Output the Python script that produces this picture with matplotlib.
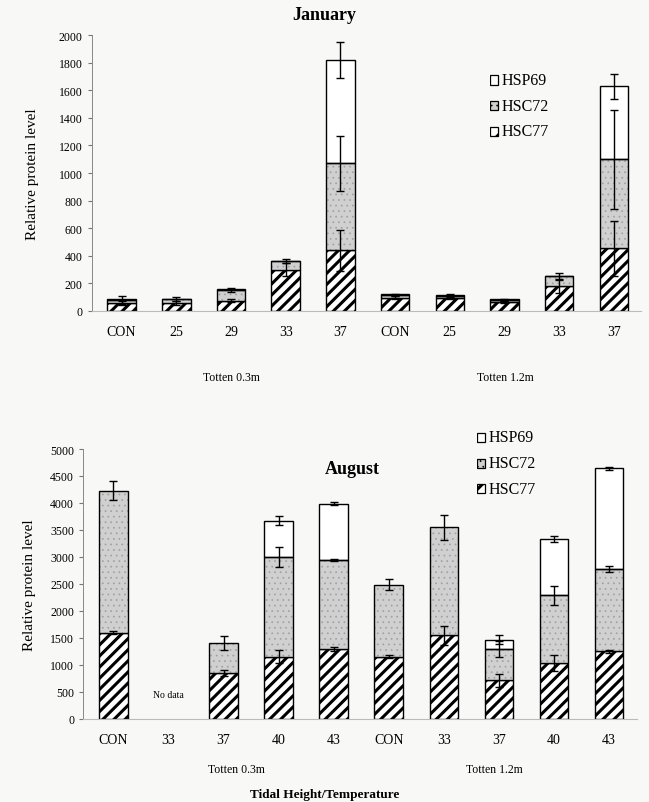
import matplotlib
matplotlib.use("Agg")
import matplotlib.pyplot as plt
import matplotlib.patches as mp
import numpy as np

plt.rcParams['font.family'] = ['Liberation Serif', 'DejaVu Serif']
plt.rcParams['hatch.linewidth'] = 2.2

# tick labels (temperatures) and groups
jan_labels = ["CON", "25", "29", "33", "37", "CON", "25", "29", "33", "37"]
aug_labels = ["CON", "33", "37", "40", "43", "CON", "33", "37", "40", "43"]
groups = ["Totten 0.3m", "Totten 1.2m"]

# January (segment heights, stacked HSC77 -> HSC72 -> HSP69)
jan_hsc77 = [55, 55, 75, 300, 440, 95, 95, 65, 180, 455]
jan_hsc72 = [25, 30, 75, 60, 630, 20, 15, 15, 70, 645]
jan_hsp69 = [5, 5, 10, 5, 750, 5, 5, 5, 5, 530]
jan_hsc77_err = [15, 15, 10, 50, 150, 10, 10, 10, 50, 200]
jan_hsc72_err = [30, 15, 15, 15, 200, 10, 10, 10, 25, 360]
jan_hsp69_err = [0, 0, 0, 0, 130, 0, 0, 0, 0, 90]

# August
aug_hsc77 = [1600, 0, 850, 1150, 1300, 1150, 1550, 720, 1030, 1250]
aug_hsc72 = [2630, 0, 550, 1850, 1640, 1340, 2000, 580, 1260, 1530]
aug_hsp69 = [0, 0, 0, 670, 1050, 0, 0, 170, 1040, 1860]
aug_hsc77_err = [20, 0, 50, 120, 40, 30, 180, 120, 150, 30]
aug_hsc72_err = [180, 0, 130, 190, 20, 100, 230, 150, 180, 60]
aug_hsp69_err = [0, 0, 0, 80, 30, 0, 0, 80, 50, 30]

BG = '#f8f8f6'
GRAY = '#d0d0d0'


def thin_hatch(patches, lw=0.5):
    for p in patches:
        try:
            p.set_hatch_linewidth(lw)
        except AttributeError:
            pass


def stacked(ax, labels, h77, h72, h69, e77, e72, e69):
    x = np.arange(len(labels))
    h77, h72, h69 = map(np.array, (h77, h72, h69))
    w = 0.52
    m = h77 > 0
    ax.bar(x[m], h77[m], w, color='white', edgecolor='black', hatch='///', lw=1.0, zorder=2)
    m = h72 > 0
    b = ax.bar(x[m], h72[m], w, bottom=h77[m], color=GRAY, edgecolor='#a0a0a0', hatch='...', lw=0, zorder=2)
    thin_hatch(b)
    ax.bar(x[m], h72[m], w, bottom=h77[m], color='none', edgecolor='black', lw=1.0, zorder=3)
    m = h69 > 0
    ax.bar(x[m], h69[m], w, bottom=(h77 + h72)[m], color='white', edgecolor='black', lw=1.0, zorder=2)
    for vals, errs in ((h77, e77), (h77 + h72, e72), (h77 + h72 + h69, e69)):
        errs = np.array(errs)
        k = errs > 0
        ax.errorbar(x[k], vals[k], yerr=errs[k], fmt='none', ecolor='black',
                    elinewidth=1.0, capsize=3, capthick=1.0, zorder=4)
    ax.set_xticks(x)
    ax.set_xticklabels(labels, fontsize=10)
    ax.tick_params(axis='x', length=0, pad=10)
    ax.tick_params(axis='y', labelsize=8.5, length=3, color='#777777')
    for s in ('top', 'right'):
        ax.spines[s].set_visible(False)
    ax.spines['left'].set_color('#888888')
    ax.spines['left'].set_linewidth(0.7)
    ax.spines['bottom'].set_color('#bbbbbb')
    ax.spines['bottom'].set_linewidth(0.8)
    ax.set_facecolor(BG)
    ax.set_xlim(-0.55, 9.5)


def legend(fig, x0, y0, dy, size):
    items = [('white', None, 'HSP69'), (GRAY, '...', 'HSC72'), ('white', '//', 'HSC77')]
    lax = fig.add_axes([x0, y0 - 2 * dy - 0.02, 0.2, 2 * dy + 0.04])
    lax.axis('off')
    lax.set_xlim(0, 1)
    lax.set_ylim(0, 1)
    n = len(items)
    for i, (fc, hatch, lab) in enumerate(items):
        yy = 1 - (i + 0.5) / n
        r = mp.Rectangle((0.0, yy - 0.06), size, 0.12, facecolor=fc, edgecolor='black',
                         hatch=hatch, lw=0.9)
        lax.add_patch(r)
        if hatch == '...':
            thin_hatch([r])
        lax.text(size + 0.03, yy, lab, va='center', ha='left', fontsize=11.5)


fig = plt.figure(figsize=(6.49, 8.03), dpi=100, facecolor=BG)

ax1 = fig.add_axes([0.141, 0.6115, 0.847, 0.3435])
stacked(ax1, jan_labels, jan_hsc77, jan_hsc72, jan_hsp69, jan_hsc77_err, jan_hsc72_err, jan_hsp69_err)
ax1.set_ylim(0, 2000)
ax1.set_yticks(np.arange(0, 2001, 200))
ax1.set_ylabel('Relative protein level', fontsize=11, labelpad=14)
fig.text(0.5, 0.981, 'January', ha='center', va='center', fontsize=13, fontweight='bold')
fig.text(231 / 649, 1 - 378 / 803, groups[0], ha='center', va='center', fontsize=8.5)
fig.text(505 / 649, 1 - 378 / 803, groups[1], ha='center', va='center', fontsize=8.5)
legend(fig, 0.755, 0.895, 0.028, 0.06)

ax2 = fig.add_axes([0.128, 0.1034, 0.853, 0.3362])
stacked(ax2, aug_labels, aug_hsc77, aug_hsc72, aug_hsp69, aug_hsc77_err, aug_hsc72_err, aug_hsp69_err)
ax2.set_ylim(0, 5000)
ax2.set_yticks(np.arange(0, 5001, 500))
ax2.set_ylabel('Relative protein level', fontsize=11, labelpad=10)
ax2.text(1.0, 450, 'No data', ha='center', va='center', fontsize=7)
fig.text(352 / 649, 1 - 470 / 803, 'August', ha='center', va='center', fontsize=13, fontweight='bold')
fig.text(236 / 649, 1 - 770 / 803, groups[0], ha='center', va='center', fontsize=8.5)
fig.text(494 / 649, 1 - 770 / 803, groups[1], ha='center', va='center', fontsize=8.5)
fig.text(325 / 649, 1 - 795 / 803, 'Tidal Height/Temperature', ha='center', va='center',
         fontsize=9.5, fontweight='bold')
legend(fig, 0.735, 0.45, 0.028, 0.06)

fig.savefig('out.png', dpi=100, facecolor=BG)
